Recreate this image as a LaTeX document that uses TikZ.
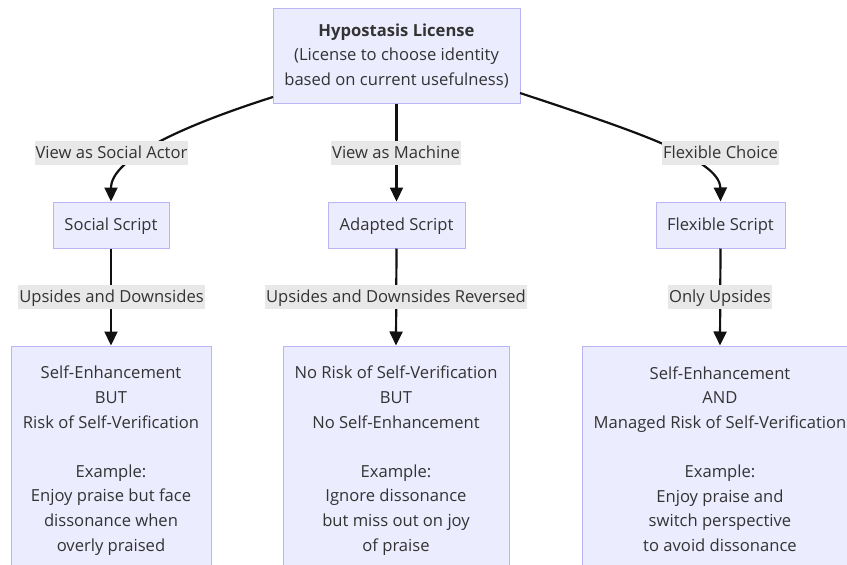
\documentclass[tikz,border=0pt]{standalone}
\usepackage{fontspec}
\setmainfont{Open Sans}
\usetikzlibrary{arrows.meta}
\definecolor{nodefill}{HTML}{ECECFF}
\definecolor{nodedraw}{HTML}{BAB5F5}
\definecolor{labelfill}{HTML}{E8E8E8}
\definecolor{txt}{HTML}{333333}
\definecolor{edge}{HTML}{111111}
\newcommand{\sst}{\rule[-3.5pt]{0pt}{17.5pt}}
\begin{document}
\begin{tikzpicture}[x=1pt,y=-1pt,
  every node/.style={font=\fontsize{16.6}{24.6}\selectfont, text=txt},
  box/.style={draw=nodedraw, fill=nodefill, line width=1pt, align=center, inner sep=0pt},
  elabel/.style={fill=labelfill, inner xsep=1pt, inner ysep=0pt, minimum height=24pt},
  conn/.style={draw=edge, line width=2.2pt, -{Triangle[length=14pt,width=13pt]}}
]
\clip (0,0) rectangle (847,565);
\useasboundingbox (0,0) rectangle (847,565);

\node[box, minimum width=247pt, minimum height=95pt] (top) at (396.5,55.5)
  {\sst\textbf{Hypostasis License}\\(License to choose identity\\based on current usefulness)\sst};

\node[box, minimum width=116pt, minimum height=46pt] (soc) at (111,225) {\sst Social Script};
\node[box, minimum width=137pt, minimum height=46pt] (ada) at (396.5,225) {\sst Adapted Script};
\node[box, minimum width=129pt, minimum height=46pt] (flx) at (720.5,225) {\sst Flexible Script};

\node[box, minimum width=200pt, minimum height=228pt] (b1) at (111,460)
  {\sst Self-Enhancement\\BUT\\Risk of Self-Verification\\[24.6pt]Example:\\Enjoy praise but face\\dissonance when\\overly praised\sst};
\node[box, minimum width=226pt, minimum height=228pt] (b2) at (396,460)
  {\sst No Risk of Self-Verification\\BUT\\No Self-Enhancement\\[24.6pt]Example:\\Ignore dissonance\\but miss out on joy\\of praise\sst};
\node[box, minimum width=276pt, minimum height=228pt] (b3) at (720,460)
  {\sst Self-Enhancement\\AND\\Managed Risk of Self-Verification\\[24.6pt]Example:\\Enjoy praise and\\switch perspective\\to avoid dissonance\sst};

\coordinate (tl) at (273,97);
\coordinate (tr) at (520,93);
\draw[conn] (tl) .. controls (185,125) and (111,158) .. (soc.north);
\draw[conn] (top.south) -- (ada.north);
\draw[conn] (tr) .. controls (625,128) and (720,158) .. (flx.north);
\draw[conn] (soc.south) -- (b1.north);
\draw[conn] (ada.south) -- (b2.north);
\draw[conn] (flx.south) -- (b3.north);

\node[elabel] (l1) at (111.5,153) {\sst View as Social Actor};
\node[elabel] (l2) at (396,153) {\sst View as Machine};
\node[elabel] (l3) at (720.5,153) {\sst Flexible Choice};
\node[elabel] (l4) at (111.5,297) {\sst Upsides and Downsides};
\node[elabel] (l5) at (396,297) {\sst Upsides and Downsides Reversed};
\node[elabel] (l6) at (720,297) {\sst Only Upsides};
\end{tikzpicture}
\end{document}
